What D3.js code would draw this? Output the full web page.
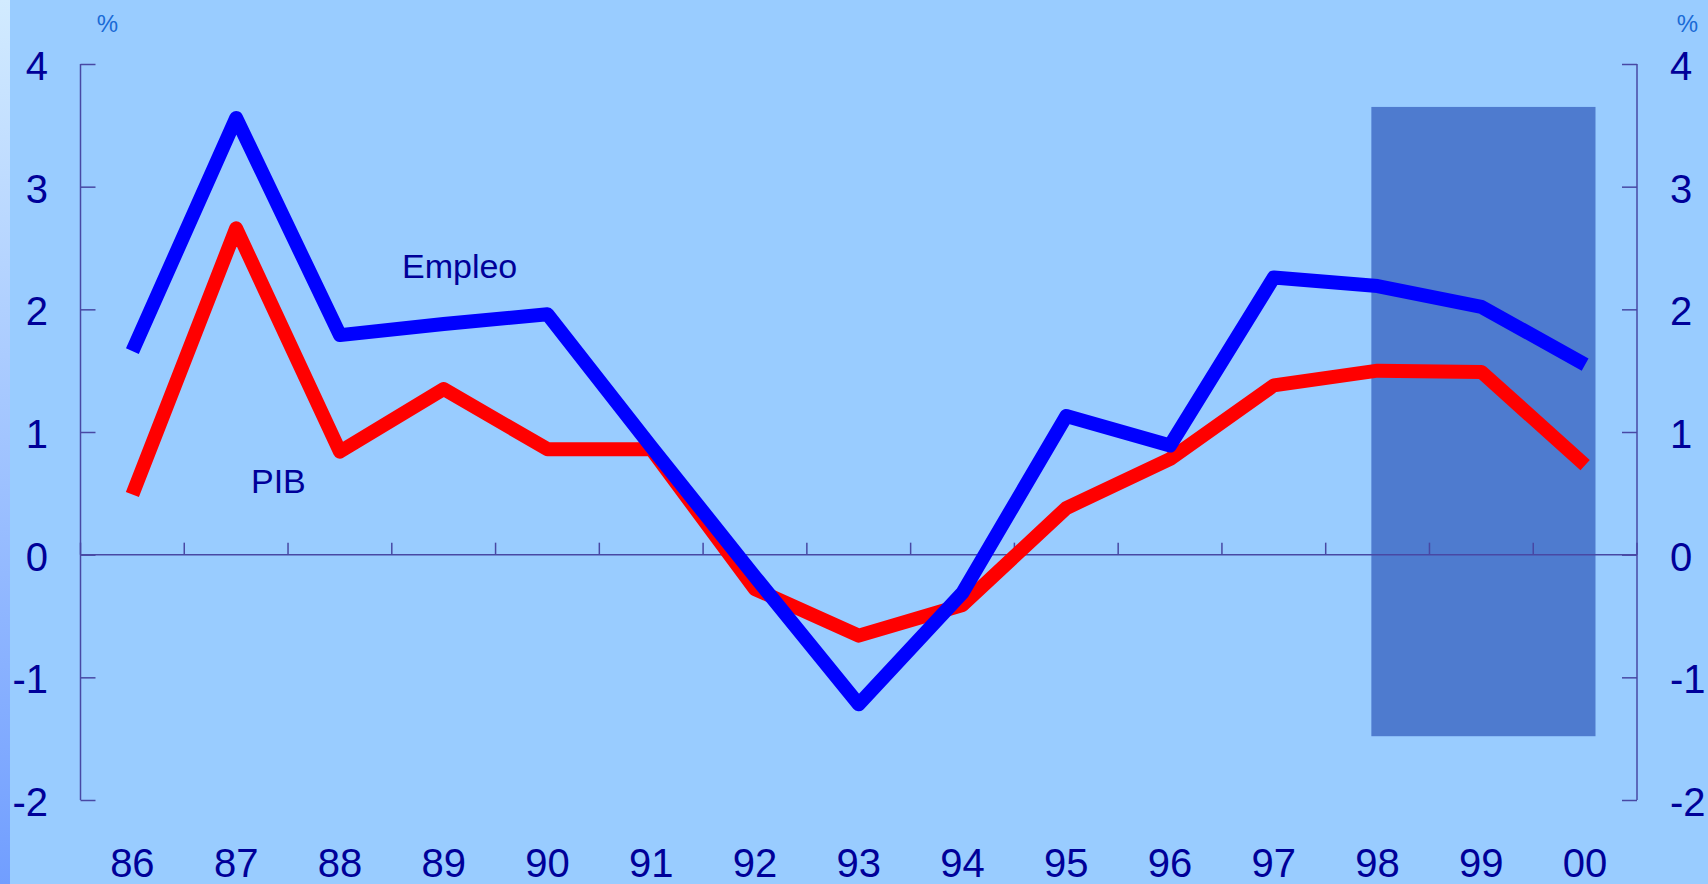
<!DOCTYPE html>
<html>
<head>
<meta charset="utf-8">
<script src="https://cdn.jsdelivr.net/npm/d3@7/dist/d3.min.js"></script>
<style>
  html, body { margin: 0; padding: 0; background: #99ccff; overflow: hidden; }
  svg { display: block; font-family: "Liberation Sans", Arial, sans-serif; }
</style>
</head>
<body>
<svg id="chart" width="1708" height="884"></svg>
<script>
const years = ["86","87","88","89","90","91","92","93","94","95","96","97","98","99","00"];
const empleo = [1.66, 3.56, 1.79, 1.88, 1.96, 0.88, -0.18, -1.22, -0.31, 1.13, 0.89, 2.26, 2.19, 2.02, 1.55];
const pib = [0.49, 2.66, 0.84, 1.35, 0.86, 0.86, -0.28, -0.66, -0.41, 0.38, 0.78, 1.38, 1.50, 1.49, 0.73];
const yTicks = [-2, -1, 0, 1, 2, 3, 4];
const shadeFrom = "98", shadeTo = "00", shadeTop = 3.65, shadeBottom = -1.48;
const seriesLabels = ["Empleo", "PIB"];
const unitLabel = "%";

(function () {
const W = 1708, H = 884;
const mL = 80.5, mR = 1637, mT = 64, mB = 800;
const svg = d3.select("#chart");

// background + left gradient strip
const defs = svg.append("defs");
const grad = defs.append("linearGradient").attr("id", "strip").attr("x1", 0).attr("x2", 0).attr("y1", 0).attr("y2", 1);
grad.append("stop").attr("offset", "0%").attr("stop-color", "#d2ebff");
grad.append("stop").attr("offset", "100%").attr("stop-color", "#719eff");
svg.append("rect").attr("width", W).attr("height", H).attr("fill", "#99ccff");
svg.append("rect").attr("width", 10).attr("height", H).attr("fill", "url(#strip)");

const x = d3.scaleBand().domain(years).range([mL, mR]).padding(0);
const y = d3.scaleLinear().domain([-2, 4]).range([mB, mT]);
const cx = d => x(d) + x.bandwidth() / 2;

// shaded forecast area
const sx0 = cx(shadeFrom) - 0.06 * x.step();
const sx1 = cx(shadeTo) + 0.1 * x.step();
svg.append("rect")
  .attr("x", sx0)
  .attr("y", y(shadeTop))
  .attr("width", sx1 - sx0)
  .attr("height", y(shadeBottom) - y(shadeTop))
  .attr("fill", "#4e7bcf");

const axisColor = "#4848a4";
const textColor = "#000099";

// left axis
const leftAxis = svg.append("g").attr("transform", `translate(${mL},0)`)
  .call(d3.axisRight(y).tickValues(yTicks).tickSize(15).tickFormat(""));
// right axis
const rightAxis = svg.append("g").attr("transform", `translate(${mR},0)`)
  .call(d3.axisLeft(y).tickValues(yTicks).tickSize(15).tickFormat(""));
[leftAxis, rightAxis].forEach(g => {
  g.select(".domain").attr("d", `M0,${mT}V${mB}`);
  g.selectAll("line, path").attr("stroke", axisColor).attr("stroke-width", 1.5);
});

// x axis at zero with ticks at band boundaries
const xAxis = svg.append("g").attr("transform", `translate(0,${y(0)})`);
xAxis.append("line").attr("x1", mL).attr("x2", mR).attr("stroke", axisColor).attr("stroke-width", 1.5);
const bounds = years.map(d => x(d)).concat([mR]);
xAxis.selectAll(".xt").data(bounds).join("line")
  .attr("class", "xt")
  .attr("x1", d => d).attr("x2", d => d).attr("y1", 0).attr("y2", -12)
  .attr("stroke", axisColor).attr("stroke-width", 1.5);

// y tick labels
svg.append("g").selectAll("text").data(yTicks).join("text")
  .attr("x", 48).attr("y", d => y(d) + 16)
  .attr("text-anchor", "end").attr("font-size", 40).attr("fill", textColor)
  .text(d => d);
svg.append("g").selectAll("text").data(yTicks).join("text")
  .attr("x", 1670).attr("y", d => y(d) + 16)
  .attr("text-anchor", "start").attr("font-size", 40).attr("fill", textColor)
  .text(d => d);

// x tick labels
svg.append("g").selectAll("text").data(years).join("text")
  .attr("x", d => cx(d)).attr("y", 877)
  .attr("text-anchor", "middle").attr("font-size", 40).attr("fill", textColor)
  .text(d => d);

// unit labels
svg.append("text").attr("x", 107.5).attr("y", 32).attr("text-anchor", "middle")
  .attr("font-size", 24).attr("fill", "#1a6ad6").text(unitLabel);
svg.append("text").attr("x", 1687.5).attr("y", 32).attr("text-anchor", "middle")
  .attr("font-size", 24).attr("fill", "#1a6ad6").text(unitLabel);

// lines
const line = d3.line().x((d, i) => cx(years[i])).y(d => y(d));
svg.append("path").datum(pib).attr("d", line)
  .attr("fill", "none").attr("stroke", "#ff0000").attr("stroke-width", 14)
  .attr("stroke-linejoin", "round").attr("stroke-linecap", "butt");
svg.append("path").datum(empleo).attr("d", line)
  .attr("fill", "none").attr("stroke", "#0000ff").attr("stroke-width", 14)
  .attr("stroke-linejoin", "round").attr("stroke-linecap", "butt");

// series labels
svg.append("text").attr("x", 402).attr("y", 278).attr("font-size", 34).attr("fill", textColor).text(seriesLabels[0]);
svg.append("text").attr("x", 251).attr("y", 493).attr("font-size", 34).attr("fill", textColor).text(seriesLabels[1]);
})();
</script>
</body>
</html>
